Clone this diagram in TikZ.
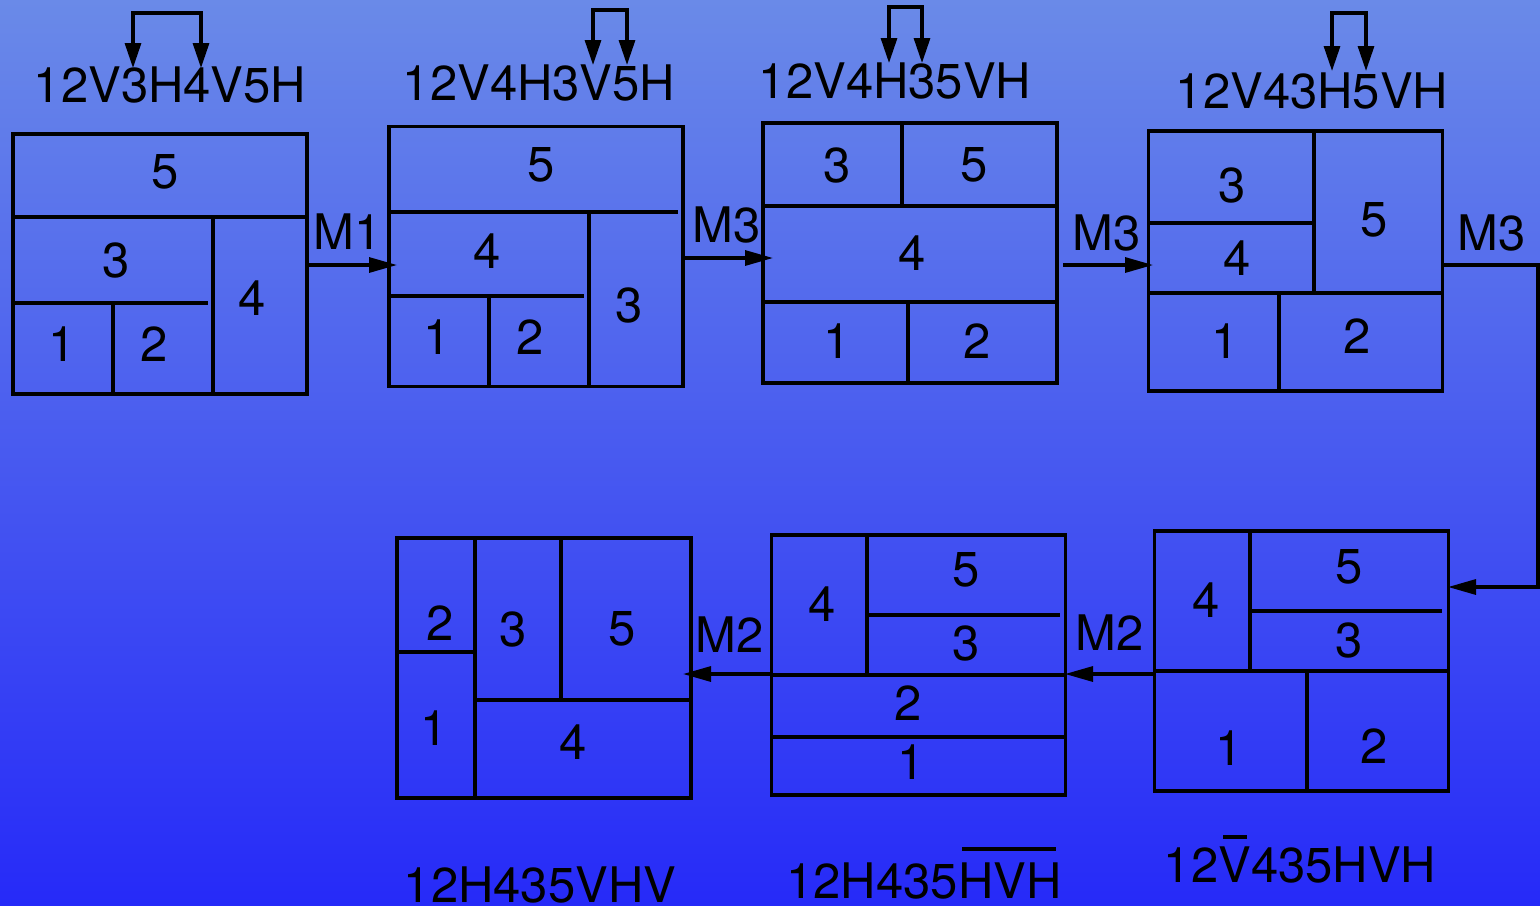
\documentclass[tikz,border=0pt]{standalone}
\usepackage{fontspec}
\setmainfont{TeX Gyre Heros}
\usetikzlibrary{arrows.meta}
\definecolor{bgtop}{RGB}{106,138,232}
\definecolor{bgbot}{RGB}{38,42,248}
\tikzset{
  box/.style={draw, line width=1.75pt, minimum width=147pt, minimum height=130pt, inner sep=0pt},
  part/.style={line width=1.75pt},
  num/.style={inner sep=0pt, font=\fontsize{24.5}{28}\selectfont},
  lbl/.style={inner sep=0pt, font=\fontsize{24.5}{28}\selectfont},
  conn/.style={line width=1.6pt, -{Triangle[length=14pt,width=7.5pt]}},
  swap/.style={line width=1.6pt, {Triangle[length=12.5pt,width=8pt]}-{Triangle[length=12.5pt,width=8pt]}},
  bar/.style={line width=2pt}
}
\begin{document}
\begin{tikzpicture}[x=0.5pt,y=-0.5pt]
\useasboundingbox (0,0) rectangle (1540,905);
\shade[top color=bgtop, bottom color=bgbot] (0,0) rectangle (1540,905);

% ---------- box 1 ----------
\node[box] (b1) at (160,264) {};
\draw[part] (13,217) -- (307,217);
\draw[part] (213,217) -- (213,394);
\draw[part] (13,303) -- (208,303);
\draw[part] (113,303) -- (113,394);
\node[num] at (165,172) {5};
\node[num] at (116,260) {3};
\node[num] at (252,298) {4};
\node[num] at (62,344) {1};
\node[num] at (154,344) {2};

% ---------- box 2 ----------
\node[box] (b2) at (536,256.5) {};
\draw[part] (389,212) -- (678,212);
\draw[part] (589,212) -- (589,386);
\draw[part] (389,296) -- (584,296);
\draw[part] (489,296) -- (489,386);
\node[num] at (541,165) {5};
\node[num] at (487,251) {4};
\node[num] at (629,305) {3};
\node[num] at (437,337) {1};
\node[num] at (530,337) {2};

% ---------- box 3 ----------
\node[box] (b3) at (910,253) {};
\draw[part] (763,206) -- (1057,206);
\draw[part] (902,123) -- (902,206);
\draw[part] (763,302) -- (1057,302);
\draw[part] (908,302) -- (908,383);
\node[num] at (837,165) {3};
\node[num] at (974,165) {5};
\node[num] at (912,253) {4};
\node[num] at (837,341) {1};
\node[num] at (977,341) {2};

% ---------- box 4 ----------
\node[box] (b4) at (1295.5,261) {};
\draw[part] (1149,293) -- (1442,293);
\draw[part] (1314,131) -- (1314,293);
\draw[part] (1149,223) -- (1314,223);
\draw[part] (1279,293) -- (1279,391);
\node[num] at (1232,185) {3};
\node[num] at (1237,258) {4};
\node[num] at (1374,220) {5};
\node[num] at (1225,341) {1};
\node[num] at (1357,336) {2};

% ---------- box 5 ----------
\node[box] (b5) at (544,668) {};
\draw[part] (475,538) -- (475,798);
\draw[part] (397,652) -- (475,652);
\draw[part] (561,538) -- (561,700);
\draw[part] (475,700) -- (691,700);
\node[num] at (440,623) {2};
\node[num] at (434,728) {1};
\node[num] at (513,629) {3};
\node[num] at (622,629) {5};
\node[num] at (573,742) {4};

% ---------- box 6 ----------
\node[box] (b6) at (918.5,665) {};
\draw[part] (867,535) -- (867,675);
\draw[part] (867,615) -- (1060,615);
\draw[part] (772,675) -- (1065,675);
\draw[part] (772,737) -- (1065,737);
\node[num] at (822,604) {4};
\node[num] at (966,570) {5};
\node[num] at (966,643) {3};
\node[num] at (908,703) {2};
\node[num] at (911,762) {1};

% ---------- box 7 ----------
\node[box] (b7) at (1301.5,661) {};
\draw[part] (1250,531) -- (1250,671);
\draw[part] (1250,611) -- (1442,611);
\draw[part] (1155,671) -- (1448,671);
\draw[part] (1307,671) -- (1307,791);
\node[num] at (1206,600) {4};
\node[num] at (1349,567) {5};
\node[num] at (1349,640) {3};
\node[num] at (1229,748) {1};
\node[num] at (1374,746) {2};

% ---------- connectors ----------
\coordinate (t2) at (397,265);
\coordinate (t3) at (773,258);
\coordinate (s3) at (1063,265);
\coordinate (t4) at (1153,265);
\coordinate (c1) at (1538,265);
\coordinate (c2) at (1538,587);
\coordinate (t7) at (1448,587);
\coordinate (t6) at (1065,674);
\coordinate (t5) at (683,674);
\draw[conn] (b1.east |- t2) -- (t2);
\draw[conn] (b2.east |- t3) -- (t3);
\draw[conn] (s3) -- (t4);
\draw[conn] (b4.east |- c1) -- (c1) -- (c2) -- (t7);
\draw[conn] (b7.west |- t6) -- (t6);
\draw[conn] (b6.west |- t5) -- (t5);
\node[lbl] (m1) at (348,232) {M1};
\node[lbl] (m2) at (727,225) {M3};
\node[lbl] (m3) at (1107,233) {M3};
\node[lbl] (m4) at (1492,233) {M3};
\node[lbl] (m5) at (1110,633) {M2};
\node[lbl] (m6) at (730,635) {M2};

% ---------- top labels ----------
\node[lbl] (l1) at (170,85) {12V3H4V5H};
\node[lbl] (l2) at (539,83) {12V4H3V5H};
\node[lbl] (l3) at (895,81) {12V4H35VH};
\node[lbl] (l4) at (1312,91) {12V43H5VH};
\draw[swap] (133,68) -- (133,13) -- (201,13) -- (201,68);
\draw[swap] (593,65) -- (593,10) -- (627,10) -- (627,65);
\draw[swap] (889,63) -- (889,7) -- (922,7) -- (922,63);
\draw[swap] (1332,71) -- (1332,13) -- (1366,13) -- (1366,71);

% ---------- bottom labels ----------
\node[lbl] (l5) at (540,885) {12H435VHV};
\node[lbl] (l6) at (924,881) {12H435HVH};
\node[lbl] (l7) at (1300,865) {12V435HVH};
\draw[bar] (962,849) -- (1056,849);
\draw[bar] (1223,837) -- (1247,837);
\end{tikzpicture}
\end{document}
